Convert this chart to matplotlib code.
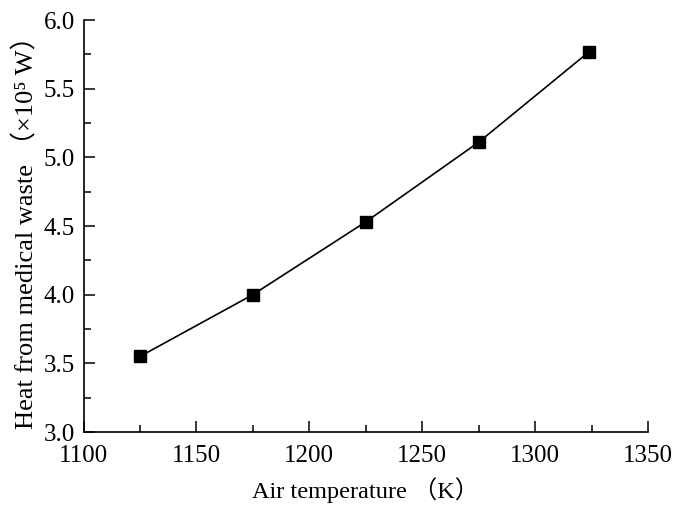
import matplotlib
matplotlib.use("Agg")
import matplotlib.pyplot as plt
from matplotlib.ticker import MultipleLocator

# data
air_temp = [1125, 1175, 1225, 1275, 1324]
heat = [3.55, 4.00, 4.53, 5.11, 5.77]

xticks = [1100, 1150, 1200, 1250, 1300, 1350]
yticks = [3.0, 3.5, 4.0, 4.5, 5.0, 5.5, 6.0]

plt.rcParams['font.family'] = ['Liberation Serif', 'DejaVu Serif', 'Noto Sans CJK SC']

fig = plt.figure(figsize=(6.76, 5.08), dpi=100)
ax = fig.add_axes([83.5 / 676, 1 - 432 / 508, 564.5 / 676, 412 / 508])

ax.plot(air_temp, heat, color='black', lw=1.2, marker='s', ms=8,
        markerfacecolor='black', markeredgecolor='black')

ax.set_xlim(1100, 1350)
ax.set_ylim(3.0, 6.0)
ax.set_xticks(xticks)
ax.set_yticks(yticks)
ax.set_yticklabels([f"{v:.1f}" for v in yticks])
ax.xaxis.set_minor_locator(MultipleLocator(25))
ax.yaxis.set_minor_locator(MultipleLocator(0.25))

ax.spines['top'].set_visible(False)
ax.spines['right'].set_visible(False)
for s in ('left', 'bottom'):
    ax.spines[s].set_linewidth(1.2)

ax.tick_params(which='both', direction='in', width=1.1, labelsize=18)
ax.tick_params(which='major', length=8)
ax.tick_params(which='minor', length=5)
ax.tick_params(axis='x', pad=9)
ax.tick_params(axis='y', pad=6)

ax.set_xlabel("Air temperature （K）", fontsize=17.5, labelpad=8)
ax.set_ylabel("Heat from medical waste （×10⁵ W）", fontsize=19, labelpad=4)

fig.savefig("out.png", dpi=100)
